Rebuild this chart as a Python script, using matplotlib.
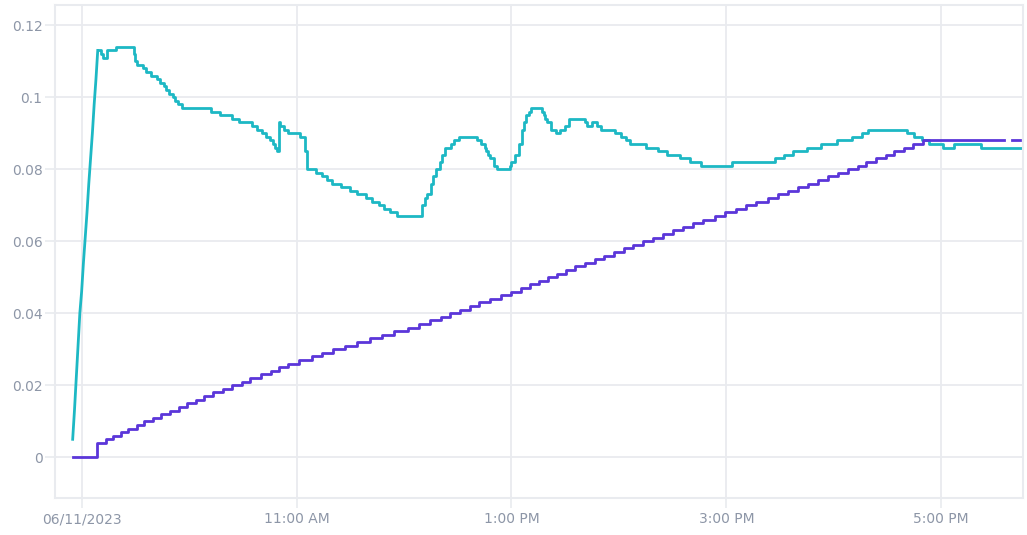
import numpy as np
import matplotlib
matplotlib.use("Agg")
import matplotlib.pyplot as plt
from matplotlib.ticker import FuncFormatter

# minutes after 09:00 on 06/11/2023
cyan_min = [-5, -4, -3, -2, -1, 0, 1, 2, 3, 4, 5, 6, 7, 8, 9, 11, 12, 14, 19,
            29, 30, 31, 34, 36, 39, 42, 44, 46, 47, 49, 51, 52, 54, 56,
            72, 77, 84, 88, 95, 98, 101, 103, 105, 107, 108, 109, 110, 111,
            113, 115, 122, 125, 126, 131, 134, 137, 140, 145, 150, 154, 159,
            162, 166, 169, 172, 176, 188, 190, 192, 193, 195, 196, 198, 200,
            201, 203, 206, 208, 211, 221, 223, 225, 226, 227, 228, 230, 232,
            239, 240, 242, 244, 246, 247, 248, 250, 251, 257, 258, 259, 260,
            262, 265, 267, 270, 272, 281, 282, 285, 288, 290, 298, 301, 304,
            306, 315, 322, 327, 334, 340, 346, 363, 387, 392, 397, 405, 413,
            422, 430, 436, 439, 461, 465, 469, 473, 481, 487, 502, 525]
cyan_val = [0.005, 0.013, 0.022, 0.031, 0.040, 0.046, 0.054, 0.061, 0.068,
            0.076, 0.083, 0.090, 0.098, 0.105, 0.113, 0.112, 0.111, 0.113,
            0.114, 0.112, 0.110, 0.109, 0.108, 0.107, 0.106, 0.105, 0.104,
            0.103, 0.102, 0.101, 0.100, 0.099, 0.098, 0.097,
            0.096, 0.095, 0.094, 0.093, 0.092, 0.091, 0.090, 0.089, 0.088,
            0.087, 0.086, 0.085, 0.093, 0.092, 0.091, 0.090, 0.089, 0.085,
            0.080, 0.079, 0.078, 0.077, 0.076, 0.075, 0.074, 0.073, 0.072,
            0.071, 0.070, 0.069, 0.068, 0.067, 0.067, 0.070, 0.072, 0.073,
            0.076, 0.078, 0.080, 0.082, 0.084, 0.086, 0.087, 0.088, 0.089,
            0.088, 0.087, 0.086, 0.085, 0.084, 0.083, 0.081, 0.080, 0.081,
            0.082, 0.084, 0.087, 0.091, 0.093, 0.095, 0.096, 0.097, 0.096,
            0.095, 0.094, 0.093, 0.091, 0.090, 0.091, 0.092, 0.094, 0.093,
            0.092, 0.093, 0.092, 0.091, 0.090, 0.089, 0.088, 0.087, 0.086,
            0.085, 0.084, 0.083, 0.082, 0.081, 0.082, 0.083, 0.084, 0.085,
            0.086, 0.087, 0.088, 0.089, 0.090, 0.091, 0.090, 0.089, 0.088,
            0.087, 0.086, 0.087, 0.086, 0.086]
# the first samples (the ramp up) are drawn as a plain line
cyan_ramp_end = 15

purple_min = [-5, 8.7, 13.6, 17.5, 21.8, 26.0, 30.7, 34.8, 39.6, 44.6, 49.3,
              54.3, 58.9, 63.8, 68.3, 73.4, 78.7, 84.0, 89.3, 94.3, 99.9,
              105.5, 110.3, 115.3, 121.4, 128.4, 134.5, 140.4, 147.3, 153.5,
              160.9, 167.9, 174.6, 182.1, 188.2, 194.4, 200.8, 205.5, 211.1,
              216.9, 221.8, 228.1, 234.3, 240.0, 245.5, 250.4, 255.4, 260.4,
              265.4, 270.3, 275.7, 281.1, 286.5, 291.9, 297.2, 302.7, 308.1,
              313.4, 319.0, 324.6, 330.2, 335.8, 341.3, 346.9, 353.5, 359.0,
              365.6, 371.1, 376.7, 383.2, 388.8, 394.4, 399.9, 405.5, 411.1,
              416.7, 422.3, 427.8, 433.4, 438.1, 443.7, 449.3, 453.9, 459.5,
              464.1, 469.7, 514.2, 515.0, 519.8, 524.2]
purple_val = [0.000, 0.004, 0.005, 0.006, 0.007, 0.008, 0.009, 0.010, 0.011,
              0.012, 0.013, 0.014, 0.015, 0.016, 0.017, 0.018, 0.019, 0.020,
              0.021, 0.022, 0.023, 0.024, 0.025, 0.026, 0.027, 0.028, 0.029,
              0.030, 0.031, 0.032, 0.033, 0.034, 0.035, 0.036, 0.037, 0.038,
              0.039, 0.040, 0.041, 0.042, 0.043, 0.044, 0.045, 0.046, 0.047,
              0.048, 0.049, 0.050, 0.051, 0.052, 0.053, 0.054, 0.055, 0.056,
              0.057, 0.058, 0.059, 0.060, 0.061, 0.062, 0.063, 0.064, 0.065,
              0.066, 0.067, 0.068, 0.069, 0.070, 0.071, 0.072, 0.073, 0.074,
              0.075, 0.076, 0.077, 0.078, 0.079, 0.080, 0.081, 0.082, 0.083,
              0.084, 0.085, 0.086, 0.087, 0.088, 0.088, np.nan, 0.088, 0.088]

tick_hours = [9, 11, 13, 15, 17]
tick_labels = ["06/11/2023", "11:00 AM", "1:00 PM", "3:00 PM", "5:00 PM"]
y_ticks = [0, 0.02, 0.04, 0.06, 0.08, 0.1, 0.12]

start = np.datetime64("2023-06-11T09:00")


def to_time(minutes):
    return start + (np.array(minutes) * 60).astype("timedelta64[s]")


grid_col = "#e9ebef"
text_col = "#8d96a7"
cyan = "#1db8c4"
purple = "#5b36d9"

fig = plt.figure(figsize=(10.27, 5.35), dpi=100)
ax = fig.add_axes([0.0535, 0.0685, 0.9430, 0.9220])

ct = to_time(cyan_min)
ax.plot(ct[:cyan_ramp_end], cyan_val[:cyan_ramp_end], color=cyan, lw=2.0)
ax.plot(ct[cyan_ramp_end - 1:], cyan_val[cyan_ramp_end - 1:],
        drawstyle="steps-post", color=cyan, lw=2.0)
ax.plot(to_time(purple_min), purple_val, drawstyle="steps-post",
        color=purple, lw=2.0)

ax.set_xlim(to_time([-14.9])[0], to_time([525.9])[0])
ax.set_ylim(-0.0114, 0.1256)

ax.set_xticks([np.datetime64(f"2023-06-11T{h:02d}:00") for h in tick_hours])
ax.set_xticklabels(tick_labels)
ax.set_yticks(y_ticks)
ax.yaxis.set_major_formatter(FuncFormatter(lambda v, p: f"{v:g}"))

ax.grid(True, color=grid_col, lw=1.3)
ax.set_axisbelow(True)
for s in ax.spines.values():
    s.set_color(grid_col)
    s.set_linewidth(1.5)
ax.tick_params(axis="both", length=7.5, width=1.2, color=grid_col,
               labelcolor=text_col, labelsize=10)
ax.tick_params(axis="y", pad=1.5)
ax.tick_params(axis="x", pad=2.5)

fig.savefig("out.png", dpi=100)
